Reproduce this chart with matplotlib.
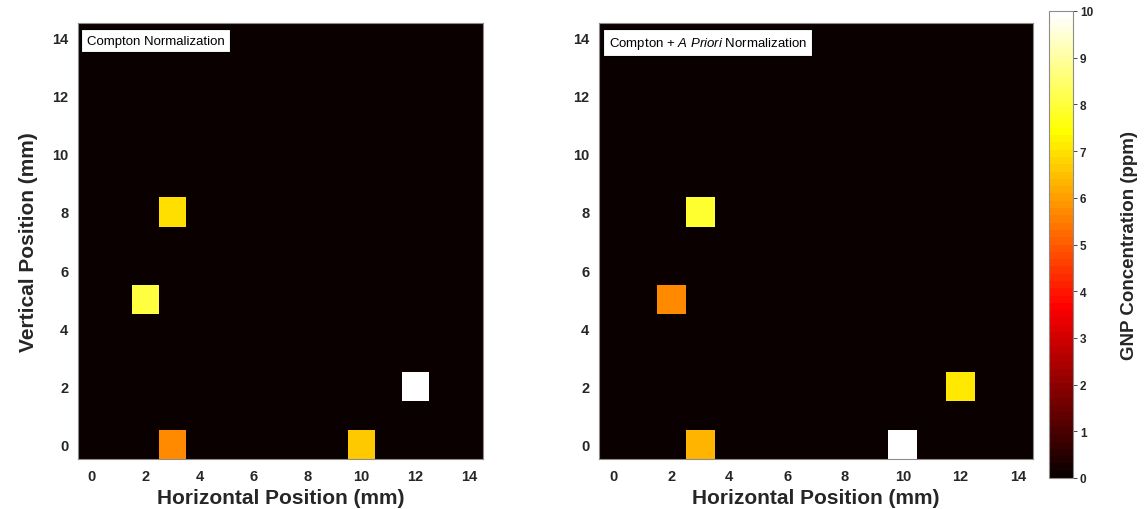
import numpy as np
import matplotlib
matplotlib.use("Agg")
import matplotlib.pyplot as plt
from matplotlib.colors import Normalize

plt.rcParams['font.family'] = ['Liberation Sans', 'DejaVu Sans']
plt.rcParams['mathtext.fontset'] = 'custom'
plt.rcParams['mathtext.rm'] = 'Liberation Sans'
plt.rcParams['mathtext.it'] = 'Liberation Sans:italic'

# Grid of scan positions (mm)
grid_size = 15
tick_values = [0, 2, 4, 6, 8, 10, 12, 14]
cbar_ticks = [0, 1, 2, 3, 4, 5, 6, 7, 8, 9, 10]

# Non-zero GNP concentrations (ppm) at (x, y) positions
compton_x = [3, 2, 12, 3, 10]
compton_y = [8, 5, 2, 0, 0]
compton_val = [7.0, 8.0, 10.0, 5.75, 6.6]

apriori_x = [3, 2, 12, 3, 10]
apriori_y = [8, 5, 2, 0, 0]
apriori_val = [7.9, 5.7, 7.05, 6.4, 10.0]

titles = ["Compton Normalization",
          r"Compton + $\mathit{A\ Priori}$ Normalization"]


def build_map(xs, ys, vals):
    m = np.zeros((grid_size, grid_size))
    for x, y, v in zip(xs, ys, vals):
        m[y, x] = v
    return m


maps = [build_map(compton_x, compton_y, compton_val),
        build_map(apriori_x, apriori_y, apriori_val)]

cmap = plt.get_cmap('hot', 64)
norm = Normalize(vmin=0, vmax=10)

W, H = 1145, 510
fig = plt.figure(figsize=(W / 100, H / 100), dpi=100)

axes_boxes = [(78, 24, 405, 436), (599, 24, 434, 436)]
tick_color = '#262626'

for i, (box, data) in enumerate(zip(axes_boxes, maps)):
    x0, y0, w, h = box
    ax = fig.add_axes([x0 / W, 1 - (y0 + h) / H, w / W, h / H])
    im = ax.imshow(data, cmap=cmap, norm=norm, origin='lower',
                   extent=(-0.5, grid_size - 0.5, -0.5, grid_size - 0.5),
                   aspect='auto', interpolation='nearest')
    ax.set_xticks(tick_values)
    ax.set_yticks(tick_values)
    ax.tick_params(length=0, labelsize=10.5, colors=tick_color, pad=7)
    for lab in ax.get_xticklabels() + ax.get_yticklabels():
        lab.set_fontweight('bold')
    for s in ax.spines.values():
        s.set_color('#8c8c8c')
        s.set_linewidth(0.8)
    ax.set_xlabel("Horizontal Position (mm)", fontsize=15, fontweight='bold',
                  color=tick_color, labelpad=4)
    if i == 0:
        ax.set_ylabel("Vertical Position (mm)", fontsize=15, fontweight='bold',
                      color=tick_color, labelpad=10)
    ax.text(0.022, 0.973, titles[i], transform=ax.transAxes, fontsize=9.5,
            va='top', ha='left', color='black',
            bbox=dict(boxstyle='square,pad=0.42', fc='white', ec='black', lw=0.8))

cax = fig.add_axes([1049 / W, 1 - 479 / H, 24 / W, 467 / H])
cb = fig.colorbar(im, cax=cax, ticks=cbar_ticks)
cb.outline.set_edgecolor('#8c8c8c')
cb.outline.set_linewidth(0.8)
cax.tick_params(length=3, width=0.6, labelsize=8.5, colors=tick_color, pad=2)
for lab in cax.get_yticklabels():
    lab.set_fontweight('bold')
cb.set_label("GNP Concentration (ppm)", fontsize=13.5, fontweight='bold',
             color=tick_color, labelpad=20)

fig.savefig("out.png", dpi=100)
